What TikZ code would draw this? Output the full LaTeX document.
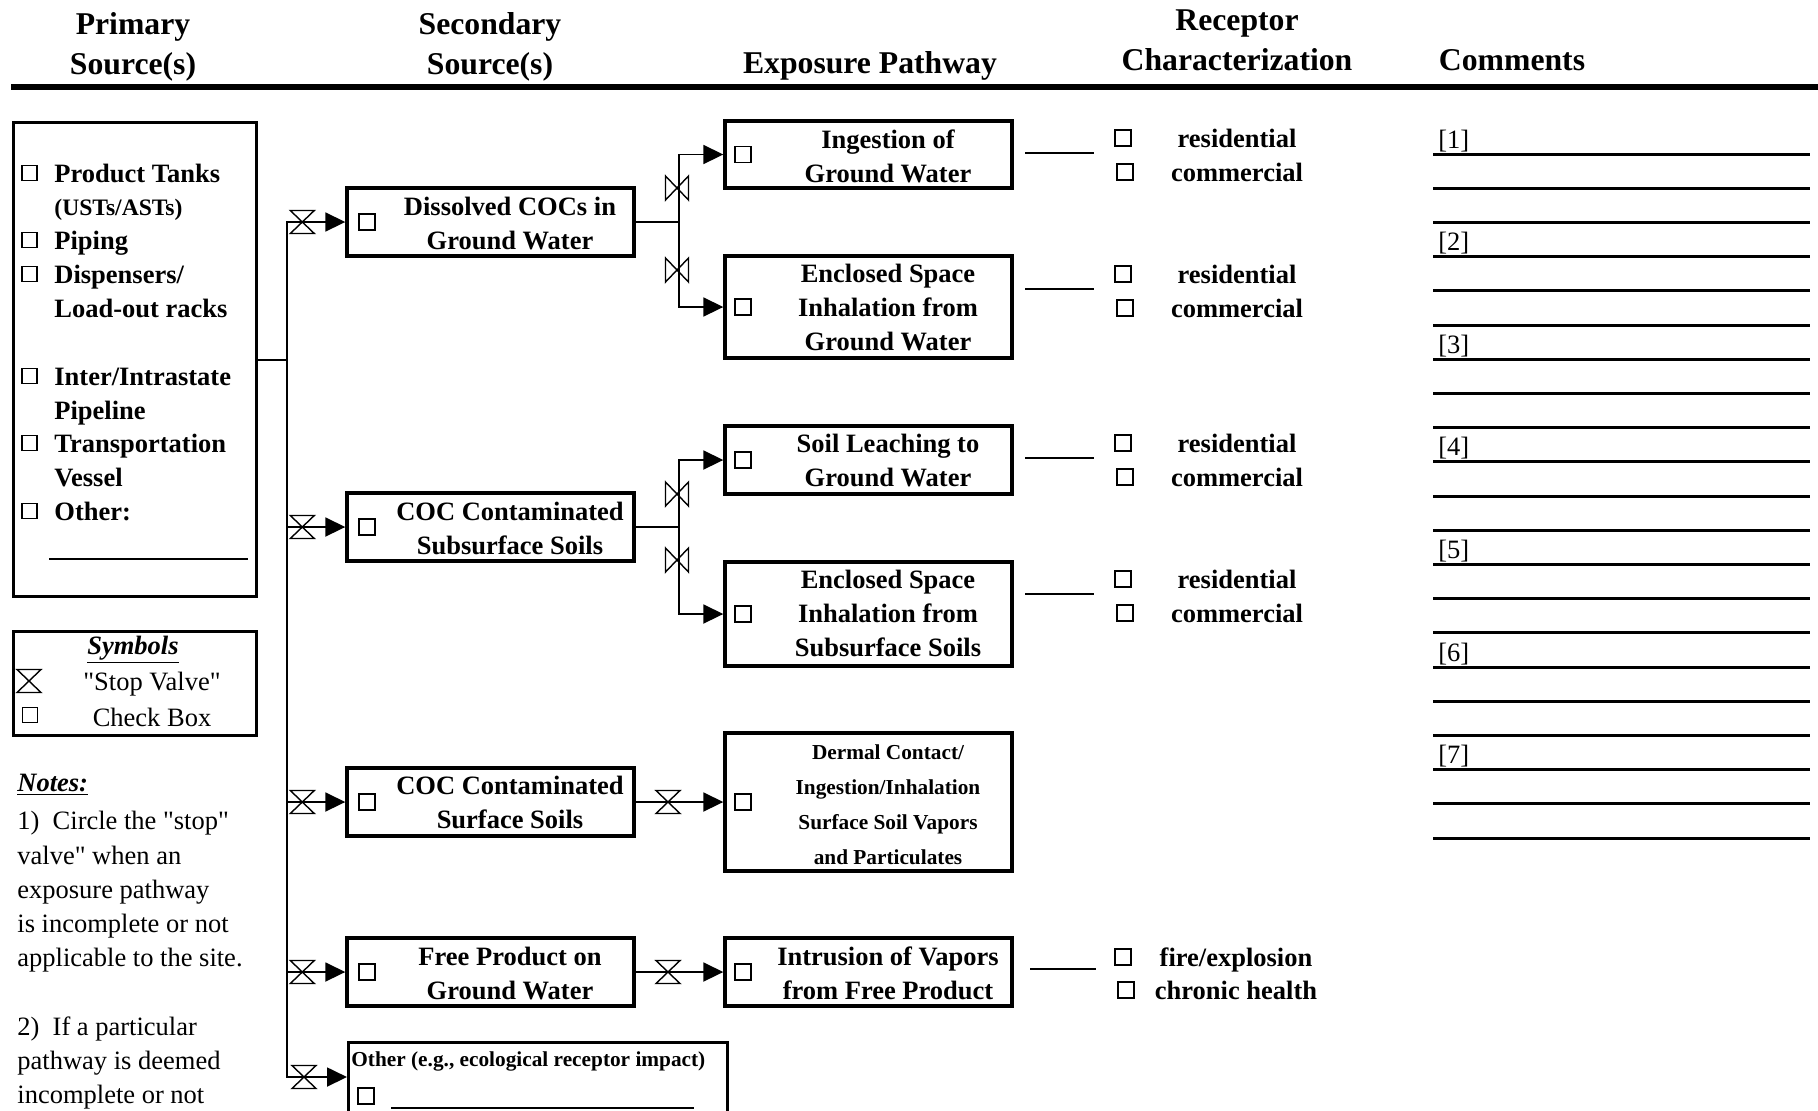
\documentclass[tikz,border=0pt]{standalone}
\usepackage{fontspec}
\setmainfont{Liberation Serif}[Ligatures=TeXOff]
\usetikzlibrary{arrows.meta,positioning}

\newcommand\hdsize{\fontsize{15.85}{20}\selectfont\bfseries}
\newcommand\bxsize{\fontsize{13.25}{17}\selectfont\bfseries}
\newcommand\smsize{\fontsize{10.65}{17.5}\selectfont\bfseries}
\newcommand\rgsize{\fontsize{13.25}{17.1}\selectfont}

\tikzset{
  box/.style={draw, line width=1.7pt, minimum width=143.5pt, inner sep=0pt},
  chk/.style={draw, line width=0.75pt, minimum size=7.3pt, inner sep=0pt},
  bigchk/.style={chk, minimum size=8pt},
  hd/.style={font=\hdsize, align=center, inner sep=0pt},
  bx/.style={font=\bxsize, align=center, inner sep=0pt},
  item/.style={font=\bxsize, anchor=west, inner sep=0pt, text height=9pt, text depth=0pt},
  rcp/.style={font=\bxsize, inner sep=0pt, text height=9pt, text depth=0pt},
  pipe/.style={line width=0.9pt},
  feed/.style={pipe, -{Triangle[length=10pt,width=9.5pt]}},
  tick/.style={line width=1.3pt},
  cline/.style={line width=1.5pt},
  hvalve/.pic={\draw[line width=0.7pt] (-12,-11.5) -- (12,-11.5) -- (-12,11.5) -- (12,11.5) -- cycle;},
  vvalve/.pic={\draw[line width=0.7pt] (-11.5,-12) -- (-11.5,12) -- (11.5,-12) -- (11.5,12) -- cycle;}
}

\begin{document}
\begin{tikzpicture}[x=0.5pt, y=-0.5pt]
\useasboundingbox (0,0) rectangle (1818,1110);
\fill[white] (0,0) rectangle (1818,1110);
\clip (0,0) rectangle (1818,1110);

% column headings
\node[hd] (hprim) at (133,47) {Primary\\Source(s)};
\node[hd] (hsec) at (490,47) {Secondary\\Source(s)};
\node[hd] (hexp) at (870,66) {Exposure Pathway};
\node[hd] (hrec) at (1237,40) {Receptor\\Characterization};
\node[hd] (hcom) at (1512,60) {Comments};
\draw[line width=2.8pt] (11,87) -- (1818,87);

% primary sources
\node[box, minimum width=121.5pt, minimum height=237pt, anchor=north west] (prim) at (12,121) {};
\node[item] (p1) at (54,173) {Product Tanks};
\node[item, font=\fontsize{11.8}{14}\selectfont\bfseries, text height=8pt] (p1b) at (54,207) {(USTs/ASTs)};
\node[item] (p2) at (54,240) {Piping};
\node[item] (p3) at (54,274) {Dispensers/};
\node[item] (p3b) at (54,308) {Load-out racks};
\node[item] (p4) at (54,376) {Inter/Intrastate};
\node[item] (p4b) at (54,410) {Pipeline};
\node[item] (p5) at (54,443) {Transportation};
\node[item] (p5b) at (54,477) {Vessel};
\node[item] (p6) at (54,511) {Other:};
\foreach \p in {p1,p2,p3,p4,p5,p6}
  \node[chk, left=8.25pt of \p] (c\p) {};
\draw[line width=0.6pt] (49,559) -- (248,559);

% symbols legend
\node[box, minimum width=121.5pt, minimum height=52pt, anchor=north west] (symb) at (12,630) {};
\node[font=\bxsize\itshape, inner sep=0pt] (symt) at (133,650) {\underline{Symbols}};
\pic at (29,681) {hvalve};
\node[font=\rgsize, inner sep=0pt] (symv) at (152,684) {"Stop Valve"};
\node[chk] (symc) at (30,715) {};
\node[font=\rgsize, inner sep=0pt] (symk) at (152,717) {Check Box};

% notes
\node[font=\bxsize\itshape, anchor=west, inner sep=0pt] (notes) at (17,785) {\underline{Notes:}};
\node[font=\rgsize, align=left, anchor=north west, inner sep=0pt] (notetxt) at (17,811)
  {1)~~Circle the "stop"\\valve" when an\\exposure pathway\\is incomplete or not\\applicable to the site.\\[17.1pt]2)~~If a particular\\pathway is deemed\\incomplete or not};

% secondary sources
\node[box, minimum height=34pt] (dissolved) at (490.5,222) {};
\node[box, minimum height=34pt] (subsoil) at (490.5,527) {};
\node[box, minimum height=34pt] (surfsoil) at (490.5,802) {};
\node[box, minimum height=34pt] (freeprod) at (490.5,972) {};
\node[box, minimum width=189.5pt, minimum height=60pt, anchor=north west] (other) at (347,1041) {};
\node[bx] (tdiss) at (510,223) {Dissolved COCs in\\Ground Water};
\node[bx] (tsub) at (510,528) {COC Contaminated\\Subsurface Soils};
\node[bx] (tsurf) at (510,802) {COC Contaminated\\Surface Soils};
\node[bx] (tfree) at (510,973) {Free Product on\\Ground Water};
\node[font=\smsize, anchor=west, inner sep=0pt] (tother) at (351,1061) {Other (e.g., ecological receptor impact)};
\node[bigchk] (cother) at (366,1096) {};
\draw[line width=0.6pt] (391,1108) -- (694,1108);
\foreach \b in {dissolved,subsoil,surfsoil,freeprod}
  \node[bigchk, right=6.4pt of \b.west] (c\b) {};

% trunk from primary sources
\coordinate (ttop) at (287,222);
\coordinate (tbot) at (287,1077);
\draw[pipe] (prim.east) -- (prim.east -| ttop);
\draw[pipe, {Triangle[length=10pt,width=9.5pt]}-{Triangle[length=10pt,width=9.5pt]}]
  (dissolved.west) -- (ttop) -- (tbot) -- (tbot -| other.west);
\draw[feed] (subsoil.west -| ttop) -- (subsoil.west);
\draw[feed] (surfsoil.west -| ttop) -- (surfsoil.west);
\draw[feed] (freeprod.west -| ttop) -- (freeprod.west);
\foreach \b in {dissolved,subsoil,surfsoil,freeprod}
  \pic at ([xshift=-21.5pt]\b.west) {hvalve};
\pic at (304,1077) {hvalve};

% exposure pathways
\node[box, minimum height=33.5pt] (ingest) at (868.5,154.5) {};
\node[box, minimum height=51pt] (enclgw) at (868.5,307) {};
\node[box, minimum height=34pt] (leach) at (868.5,460) {};
\node[box, minimum height=52pt] (enclss) at (868.5,614) {};
\node[box, minimum height=69pt] (dermal) at (868.5,802) {};
\node[box, minimum height=34pt] (intrus) at (868.5,972) {};
\node[bx] (tingest) at (888,156) {Ingestion of\\Ground Water};
\node[bx] (tenclgw) at (888,307) {Enclosed Space\\Inhalation from\\Ground Water};
\node[bx] (tleach) at (888,460) {Soil Leaching to\\Ground Water};
\node[bx] (tenclss) at (888,613) {Enclosed Space\\Inhalation from\\Subsurface Soils};
\node[font=\smsize, align=center, inner sep=0pt] (tdermal) at (888,805)
  {Dermal Contact/\\Ingestion/Inhalation\\Surface Soil Vapors\\and Particulates};
\node[bx] (tintrus) at (888,973) {Intrusion of Vapors\\from Free Product};
\foreach \b in {ingest,enclgw,leach,enclss,dermal,intrus}
  \node[bigchk, right=5.4pt of \b.west] (c\b) {};

\coordinate (sp1) at ([xshift=21.5pt]dissolved.east);
\coordinate (sp2) at ([xshift=21.5pt]subsoil.east);
\draw[pipe] (dissolved.east) -- (sp1);
\draw[feed] (sp1) |- (ingest.west);
\draw[feed] (sp1) |- (enclgw.west);
\draw[pipe] (subsoil.east) -- (sp2);
\draw[feed] (sp2) |- (leach.west);
\draw[feed] (sp2) |- (enclss.west);
\draw[feed] (surfsoil.east) -- (dermal.west);
\draw[feed] (freeprod.east) -- (intrus.west);
\pic at (677,188) {vvalve};
\pic at (677,270) {vvalve};
\pic at (677,494) {vvalve};
\pic at (677,560) {vvalve};
\pic at (668,802) {hvalve};
\pic at (668,972) {hvalve};

% receptors
\foreach \y/\n in {138/a,274/b,443/c,579/d}{
  \node[rcp] (res\n) at (1237,\y) {residential};
  \node[rcp] (com\n) at (1237,\y+34) {commercial};
  \node[bigchk] (cres\n) at (1123,\y) {};
  \node[bigchk] (ccom\n) at (1125,\y+34) {};
  \draw[tick] (1025,\y+15) -- (1094,\y+15);
}
\node[rcp] (fire) at (1236,957) {fire/explosion};
\node[rcp] (chron) at (1236,990) {chronic health};
\node[bigchk] (cfire) at (1123,957) {};
\node[bigchk] (cchron) at (1126,990) {};
\draw[tick] (1030,969) -- (1096,969);

% comment lines
\foreach \i in {0,...,20}
  \draw[cline] (1433,154+34.2*\i) -- (1810,154+34.2*\i);
\foreach \k in {1,...,7}
  \node[font=\rgsize, anchor=base west, inner sep=0pt] (n\k) at (1438,45.4+102.6*\k) {[\k]};
\end{tikzpicture}
\end{document}
